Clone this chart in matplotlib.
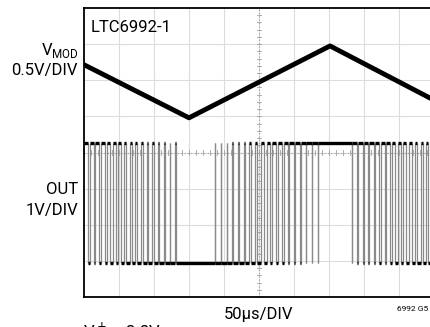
import numpy as np
import matplotlib.pyplot as plt

plt.rcParams['font.family'] = ['Roboto', 'DejaVu Sans']

# VMOD trace (time in us, level in divisions from the bottom)
vmod_t = [0, 150, 351.5, 500]
vmod_v = [6.43, 4.96, 6.95, 5.45]

# OUT pwm: one duty value per period
period_us = 8.15
duty = [0.75, 0.70, 0.66, 0.62, 0.57, 0.53, 0.48, 0.44, 0.40, 0.35,
        0.31, 0.26, 0.22, 0.17, 0.13, 0.09, 0.05, 0.0, 0.0, 0.0,
        0.0, 0.0, 0.0, 0.03, 0.08, 0.14, 0.19, 0.25, 0.30, 0.36,
        0.41, 0.47, 0.52, 0.58, 0.63, 0.69, 0.74, 0.80, 0.85, 0.91,
        0.96, 1.0, 1.0, 1.0, 1.0, 1.0, 0.96, 0.91, 0.87, 0.82,
        0.78, 0.73, 0.69, 0.64, 0.60, 0.55, 0.51, 0.46, 0.42, 0.37,
        0.33, 0.28, 0.24]
out_hi = 4.27
out_lo = 0.94

fig = plt.figure(figsize=(4.3, 3.27), dpi=100)
ax = fig.add_axes([84 / 430, 30 / 327, 350 / 430, 289 / 327])
ax.set_xlim(0, 500)
ax.set_ylim(0, 8)

# graticule
for gx in np.arange(50, 500, 50):
    ax.axvline(gx, color='#dcdcdc', lw=0.8, zorder=0)
for gy in np.arange(1, 8):
    ax.axhline(gy, color='#dcdcdc', lw=0.8, zorder=0)
ax.axvline(250, color='#a0a0a0', lw=0.8, ls=(0, (1, 2)), zorder=0)
ax.axhline(4, color='#a0a0a0', lw=0.8, ls=(0, (1, 2)), zorder=0)
for ty in np.arange(0, 8, 0.2):
    ax.plot([247, 253], [ty, ty], color='#a0a0a0', lw=0.6, zorder=0)
for tx in np.arange(0, 500, 10):
    ax.plot([tx, tx], [3.92, 4.08], color='#a0a0a0', lw=0.6, zorder=0)

# OUT trace built from the duty list
segs = []
for k, d in enumerate(duty):
    t0 = k * period_us
    t1 = t0 + d * period_us
    t2 = t0 + period_us
    if t1 > t0:
        segs.append([t0, t1, out_hi])
    if t2 > t1:
        segs.append([t1, t2, out_lo])
merged = [segs[0]]
for s in segs[1:]:
    if s[2] == merged[-1][2]:
        merged[-1][1] = s[1]
    else:
        merged.append(s)
edges = [s[0] for s in merged[1:]]
ax.vlines(edges, out_lo, out_hi, color='#8a8a8a', lw=0.9, zorder=2)
for s in merged:
    ax.plot([s[0], s[1]], [s[2], s[2]], color='black', lw=2.4,
            solid_capstyle='butt', zorder=3)

ax.plot(vmod_t, vmod_v, color='black', lw=3.5, zorder=4)

ax.set_xticks([])
ax.set_yticks([])
for side in ['left', 'top', 'bottom']:
    ax.spines[side].set_linewidth(1.3)
ax.spines['right'].set_visible(False)

fs = 12
fig.text(91 / 430, 1 - 27 / 327, 'LTC6992-1', fontsize=fs, ha='left', va='center')
fig.text(79 / 430, 1 - 50 / 327, r'V$_\mathregular{MOD}$', fontsize=fs, ha='right', va='center')
fig.text(78 / 430, 1 - 70 / 327, '0.5V/DIV', fontsize=fs, ha='right', va='center')
fig.text(78 / 430, 1 - 189 / 327, 'OUT', fontsize=fs, ha='right', va='center')
fig.text(78 / 430, 1 - 210 / 327, '1V/DIV', fontsize=fs, ha='right', va='center')
fig.text(259 / 430, 1 - 315 / 327, '50µs/DIV', fontsize=fs, ha='center', va='center')
fig.text(428 / 430, 1 - 309 / 327, '6992 G5', fontsize=6, ha='right', va='center')
fig.text(83 / 430, 1 - 321 / 327, 'V$^+$ = 3.3V', fontsize=fs, ha='left', va='top')

fig.savefig('out.png', dpi=100)
